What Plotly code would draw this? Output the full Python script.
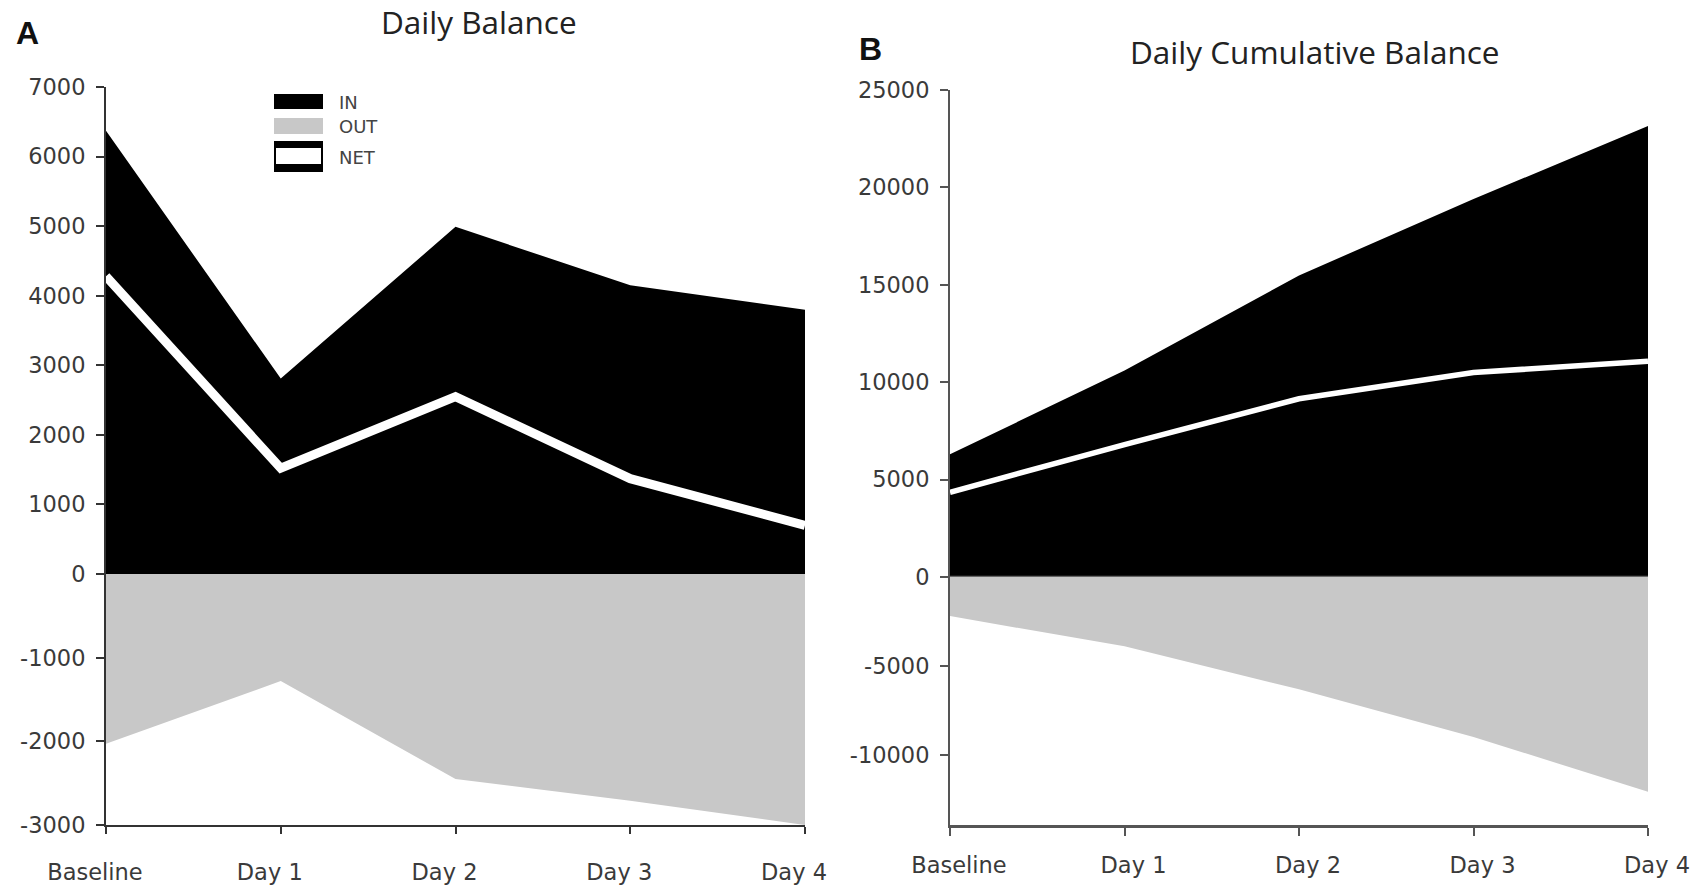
import plotly.graph_objects as go

W, H = 1708, 888

categories = ["Baseline", "Day 1", "Day 2", "Day 3", "Day 4"]

# Panel A: daily balance
daily_in = [6370, 2810, 4990, 4150, 3800]
daily_out = [-2030, -1280, -2450, -2710, -3000]
daily_net = [4280, 1520, 2550, 1370, 700]

# Panel B: daily cumulative balance
cum_in = [6300, 10600, 15480, 19400, 23150]
cum_out = [-2200, -3900, -6320, -9000, -12080]
cum_net = [4350, 6800, 9150, 10500, 11070]

daily_pos_ticks = [0, 1000, 2000, 3000, 4000, 5000, 6000, 7000]
daily_neg_ticks = [-3000, -2000, -1000]
cum_pos_ticks = [0, 5000, 10000, 15000, 20000, 25000]
cum_neg_ticks = [-10000, -5000]

BLACK = "#000000"
GREY = "#c8c8c8"
TICK_FONT = dict(family="DejaVu Sans", size=22.5, color="#3a3a3a")


def px(x):
    return x / W


def py(y):
    return 1 - y / H


fig = go.Figure()

# ---- Panel A
fig.add_trace(go.Scatter(x=categories, y=daily_in, xaxis="x", yaxis="y", mode="lines",
                         fill="tozeroy", fillcolor=BLACK, line=dict(width=0, color=BLACK),
                         name="IN", showlegend=False))
fig.add_trace(go.Scatter(x=categories, y=daily_out, xaxis="x", yaxis="y2", mode="lines",
                         fill="tozeroy", fillcolor=GREY, line=dict(width=0, color=GREY),
                         name="OUT", showlegend=False))
fig.add_trace(go.Scatter(x=categories, y=daily_net, xaxis="x", yaxis="y", mode="lines",
                         line=dict(width=9, color="white"), name="NET", showlegend=False))

# ---- Panel B
fig.add_trace(go.Scatter(x=categories, y=cum_in, xaxis="x2", yaxis="y3", mode="lines",
                         fill="tozeroy", fillcolor=BLACK, line=dict(width=0, color=BLACK),
                         name="IN", showlegend=False))
fig.add_trace(go.Scatter(x=categories, y=cum_out, xaxis="x2", yaxis="y4", mode="lines",
                         fill="tozeroy", fillcolor=GREY, line=dict(width=0, color=GREY),
                         name="OUT", showlegend=False))
fig.add_trace(go.Scatter(x=categories, y=cum_net, xaxis="x2", yaxis="y3", mode="lines",
                         line=dict(width=5.5, color="white"), name="NET", showlegend=False))

common_y = dict(showgrid=False, zeroline=False, showline=True, ticks="outside",
                tickfont=TICK_FONT, ticklabelstandoff=6, fixedrange=True, automargin=False)
common_x = dict(type="category", range=[0, 4], showgrid=False, zeroline=False,
                showline=True, ticks="outside", tickfont=TICK_FONT, fixedrange=True,
                automargin=False)


def labels(vals):
    return [str(v) for v in vals]


fig.update_layout(
    width=W, height=H, autosize=False,
    margin=dict(l=0, r=0, t=0, b=0, autoexpand=False),
    paper_bgcolor="white", plot_bgcolor="rgba(0,0,0,0)",
    showlegend=False,
    xaxis=dict(domain=[px(106), px(805)], anchor="y2", linecolor="#333", linewidth=2,
               ticklen=7, tickwidth=2, tickcolor="#333", ticklabelstandoff=19,
               ticklabelshift=-11, **common_x),
    yaxis=dict(domain=[py(574), py(87)], anchor="x", range=[0, 7000],
               tickvals=daily_pos_ticks, ticktext=labels(daily_pos_ticks),
               linecolor="#333", linewidth=2, ticklen=8, tickwidth=2, tickcolor="#333", **common_y),
    yaxis2=dict(domain=[py(825), py(574)], anchor="x", range=[-3000, 0],
                tickvals=daily_neg_ticks, ticktext=labels(daily_neg_ticks),
                linecolor="#333", linewidth=2, ticklen=8, tickwidth=2, tickcolor="#333", **common_y),
    xaxis2=dict(domain=[px(950), px(1648)], anchor="y4", linecolor="#555", linewidth=2.5,
                ticklen=8, tickwidth=2, tickcolor="#555", ticklabelstandoff=10,
                ticklabelshift=9, **common_x),
    yaxis3=dict(domain=[py(577), py(90)], anchor="x2", range=[0, 25000],
                tickvals=cum_pos_ticks, ticktext=labels(cum_pos_ticks),
                linecolor="#555", linewidth=2, ticklen=8, tickwidth=2, tickcolor="#555", **common_y),
    yaxis4=dict(domain=[py(825), py(577)], anchor="x2", range=[-13950, 0],
                tickvals=cum_neg_ticks, ticktext=labels(cum_neg_ticks),
                linecolor="#555", linewidth=2, ticklen=8, tickwidth=2, tickcolor="#555", **common_y),
)

shapes = [
    # zero line in panel B
    dict(type="line", xref="x2 domain", yref="y3", x0=0, x1=1, y0=0, y1=0,
         line=dict(color="#666", width=2.5)),
    # legend swatches (panel A)
    dict(type="rect", xref="paper", yref="paper", x0=px(274), x1=px(323), y0=py(109), y1=py(94),
         fillcolor=BLACK, line=dict(width=0)),
    dict(type="rect", xref="paper", yref="paper", x0=px(274), x1=px(323), y0=py(134), y1=py(118),
         fillcolor=GREY, line=dict(width=0)),
    dict(type="rect", xref="paper", yref="paper", x0=px(274), x1=px(323), y0=py(172), y1=py(141),
         fillcolor=BLACK, line=dict(width=0)),
    dict(type="rect", xref="paper", yref="paper", x0=px(276), x1=px(321), y0=py(164), y1=py(148),
         fillcolor="white", line=dict(width=0)),
]
fig.update_layout(shapes=shapes)

LEG_FONT = dict(family="DejaVu Sans", size=18, color="#444")
TITLE_FONT = dict(family="Open Sans", size=31.5, color="#222")
annotations = [
    dict(text="Daily Balance", x=px(479), y=py(22), xref="paper", yref="paper",
         xanchor="center", yanchor="middle", showarrow=False, font=TITLE_FONT),
    dict(text="Daily Cumulative Balance", x=px(1315), y=py(52), xref="paper", yref="paper",
         xanchor="center", yanchor="middle", showarrow=False, font=TITLE_FONT),
    dict(text="<b>A</b>", x=px(27), y=py(33), xref="paper", yref="paper",
         xanchor="center", yanchor="middle", showarrow=False,
         font=dict(family="Liberation Sans", size=32, color="#111")),
    dict(text="<b>B</b>", x=px(870), y=py(49), xref="paper", yref="paper",
         xanchor="center", yanchor="middle", showarrow=False,
         font=dict(family="Liberation Sans", size=32, color="#111")),
    dict(text="IN", x=px(337), y=py(102), xref="paper", yref="paper",
         xanchor="left", yanchor="middle", showarrow=False, font=LEG_FONT),
    dict(text="OUT", x=px(337), y=py(126), xref="paper", yref="paper",
         xanchor="left", yanchor="middle", showarrow=False, font=LEG_FONT),
    dict(text="NET", x=px(337), y=py(157), xref="paper", yref="paper",
         xanchor="left", yanchor="middle", showarrow=False, font=LEG_FONT),
]
fig.update_layout(annotations=annotations)

fig.write_html("out.html", config={"displayModeBar": False})
